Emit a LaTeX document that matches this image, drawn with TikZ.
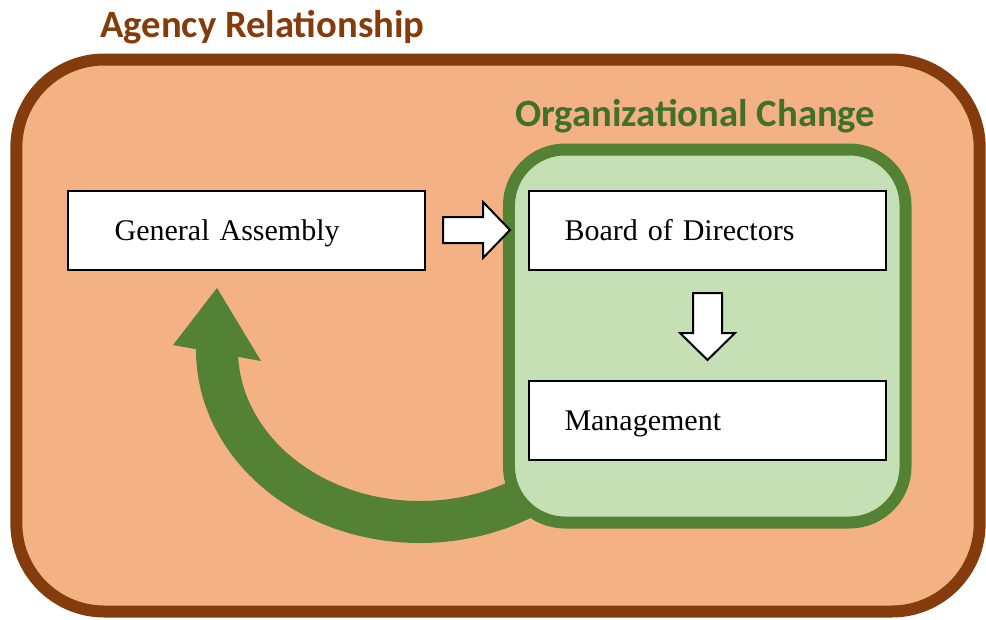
\documentclass[tikz,border=0pt]{standalone}
\usepackage{fontspec}
\setmainfont{Liberation Serif}
\newfontfamily\titlefont{Carlito}
\definecolor{brownline}{HTML}{843C0C}
\definecolor{orangefill}{HTML}{F4B183}
\definecolor{greenline}{HTML}{548235}
\definecolor{greenfill}{HTML}{C5E0B4}
\definecolor{greentitle}{HTML}{41702B}
\begin{document}
\begin{tikzpicture}[x=0.75pt,y=-0.75pt,
  container/.style={draw, line width=9pt, inner sep=0pt},
  stagebox/.style={draw=black, line width=1.5pt, fill=white, align=left,
    minimum height=59pt, text height=15pt, text depth=0pt,
    font=\fontsize{22.5}{27}\selectfont},
  blockarrow/.style={draw=black, line width=1.5pt, fill=white, line join=miter},
  heading/.style={font=\titlefont\bfseries\fontsize{29}{33}\selectfont, anchor=base west, inner sep=0pt}]
\useasboundingbox (0,0) rectangle (986,619);

% outer frame
\node[container, draw=brownline, fill=orangefill, rounded corners=66pt,
  minimum width=722.5pt, minimum height=414pt] (agency) at (498,335.5) {};

% feedback arrow shaft, running under the inner frame
\draw[greenline, line width=31.5pt] (420,350) ++(40:203 and 172) arc[start angle=40, end angle=183, x radius=203, y radius=172];

% inner frame
\node[container, draw=greenline, fill=greenfill, rounded corners=42pt,
  minimum width=297.4pt, minimum height=279.75pt] (change) at (707.25,336) {};

% feedback arrow head
\fill[greenline] (173,345) -- (217,288) -- (261,361) -- cycle;

% stages
\node[stagebox, text width=197.75pt, inner xsep=35pt] (ga) at (246.5,230.5) {General Assembly};
\node[stagebox, text width=213.75pt, inner xsep=27pt] (bod) at (707,230.5) {Board of Directors};
\node[stagebox, text width=213.75pt, inner xsep=27pt] (mgmt) at (707,420.5) {Management};

% block arrows between stages
\draw[blockarrow] (443,217) -- (483,217) -- (483,202) -- (510,230) -- (483,258) -- (483,243) -- (443,243) -- cycle;
\draw[blockarrow] (693,293) -- (722,293) -- (722,333) -- (735,333) -- (707.5,360) -- (680,333) -- (693,333) -- cycle;

% headings
\node[heading, text=brownline] (agencytitle) at (100,37) {Agency Relationship};
\node[heading, text=greentitle] (changetitle) at (515,126) {Organizational Change};
\end{tikzpicture}
\end{document}
